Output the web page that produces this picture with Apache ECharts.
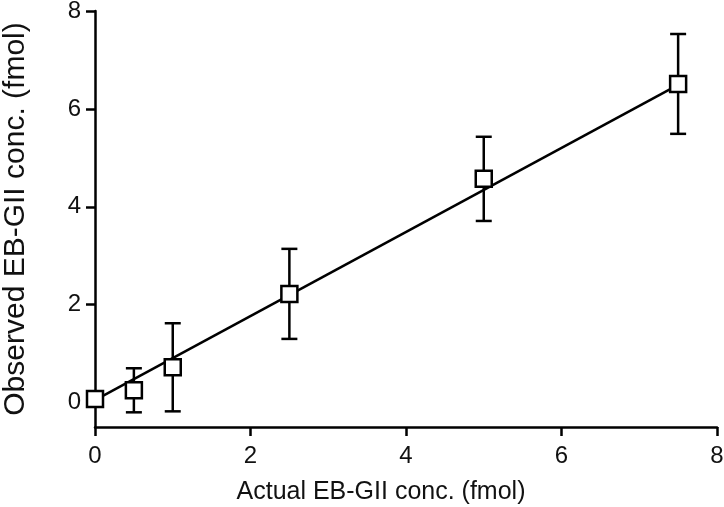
<!DOCTYPE html>
<html><head><meta charset="utf-8">
<script src="https://cdn.jsdelivr.net/npm/echarts@6/dist/echarts.min.js"></script>
<style>html,body{margin:0;padding:0;background:#fff}#c{width:724px;height:507px}</style>
</head><body><div id="c"></div>
<script>
const actual = [0, 0.5, 1.0, 2.5, 5.0, 7.5];
const observed = [0.07, 0.25, 0.72, 2.22, 4.57, 6.51];
const errors = [0.08, 0.45, 0.9, 0.92, 0.86, 1.02];
const fitX = [0, 7.5];
const fitY = [0.05, 6.49];
const tickValues = [0, 2, 4, 6, 8];

const chart = echarts.init(document.getElementById('c'));
const font = 'Liberation Sans, Arial, sans-serif';
const pts = actual.map((x, i) => [x, observed[i]]);
const errData = actual.map((x, i) => [x, observed[i] - errors[i], observed[i] + errors[i]]);
const fit = fitX.map((x, i) => [x, fitY[i]]);

chart.setOption({
  animation: false,
  backgroundColor: '#fff',
  grid: {left: 95, right: 7, top: 11, bottom: 80, containLabel: false, outerBoundsMode: 'none'},
  xAxis: {
    type: 'value', min: 0, max: 8, interval: 2,
    axisLine: {show: true, onZero: false, lineStyle: {color: '#000', width: 2.5}},
    axisTick: {show: true, length: 9, lineStyle: {color: '#000', width: 2.5}},
    axisLabel: {color: '#111', fontSize: 24, fontFamily: font, margin: 17},
    splitLine: {show: false},
    name: 'Actual EB-GII conc. (fmol)', nameLocation: 'middle', nameGap: 53,
    nameTextStyle: {color: '#111', fontSize: 25, fontFamily: font, padding: [0, 50, 0, 0]}
  },
  yAxis: {
    type: 'value', min: -0.5, max: 8,
    axisLine: {show: true, onZero: false, lineStyle: {color: '#000', width: 2.5}},
    axisTick: {show: true, length: 9, lineStyle: {color: '#000', width: 2.5}, customValues: tickValues},
    axisLabel: {color: '#111', fontSize: 24, fontFamily: font, margin: 14, customValues: tickValues},
    splitLine: {show: false},
    name: 'Observed EB-GII conc. (fmol)', nameLocation: 'middle', nameGap: 64, nameRotate: 90,
    nameTextStyle: {color: '#111', fontSize: 30, fontFamily: font}
  },
  series: [
    {
      type: 'line', data: fit, symbol: 'none', z: 1,
      lineStyle: {color: '#000', width: 2.5}
    },
    {
      type: 'custom', data: errData, z: 2,
      renderItem: function (params, api) {
        const x = api.value(0);
        const lo = api.coord([x, api.value(1)]);
        const hi = api.coord([x, api.value(2)]);
        const hw = 8;
        const style = {stroke: '#000', lineWidth: 2.5};
        return {type: 'group', children: [
          {type: 'line', shape: {x1: lo[0], y1: lo[1], x2: hi[0], y2: hi[1]}, style},
          {type: 'line', shape: {x1: lo[0] - hw, y1: lo[1], x2: lo[0] + hw, y2: lo[1]}, style},
          {type: 'line', shape: {x1: hi[0] - hw, y1: hi[1], x2: hi[0] + hw, y2: hi[1]}, style}
        ]};
      }
    },
    {
      type: 'scatter', data: pts, z: 3, symbol: 'rect', symbolSize: 16,
      itemStyle: {color: '#fff', borderColor: '#000', borderWidth: 2.5, opacity: 1}
    }
  ]
});
</script></body></html>
